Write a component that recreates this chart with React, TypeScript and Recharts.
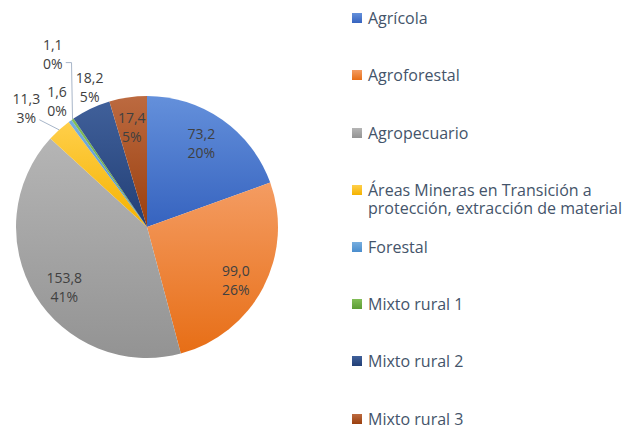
import { PieChart, Pie, Cell, Legend } from 'recharts';

const categories = [
    'Agrícola',
    'Agroforestal',
    'Agropecuario',
    'Áreas Mineras en Transición a protección, extracción de material',
    'Forestal',
    'Mixto rural 1',
    'Mixto rural 2',
    'Mixto rural 3',
];

const values = [73.2, 99.0, 153.8, 11.3, 1.6, 1.1, 18.2, 17.4];

// percentages as printed on the chart
const shares = [20, 26, 41, 3, 0, 0, 5, 5];

const data = categories.map((name, i) => ({ name, value: values[i], share: shares[i] }));

// [light, dark] per slice, vertical gradient
const colors: [string, string][] = [
    ['#6490DB', '#3663BF'],
    ['#F49C62', '#E76E16'],
    ['#B5B5B5', '#939393'],
    ['#FFCF4A', '#F4B200'],
    ['#77AEDF', '#4A8DCD'],
    ['#82BE57', '#5D9D35'],
    ['#40609A', '#223F76'],
    ['#BC6A40', '#9A3F0E'],
];

// label placement: polar radius + pixel nudge, optional leader line
const labelLayout = [
    { r: 98, dx: -2, dy: -4, leader: null },
    { r: 98, dx: 2, dy: 8, leader: null },
    { r: 98, dx: 1, dy: 9, leader: null },
    { r: 150, dx: -20, dy: -8, leader: 'diag' },
    { r: 150, dx: -2, dy: -5, leader: null },
    { r: 150, dx: -9, dy: -50, leader: 'elbow' },
    { r: 150, dx: 7, dy: -4, leader: null },
    { r: 98, dx: -1, dy: -3, leader: null },
];

const RADIAN = Math.PI / 180;
const fmt = (v: number) => v.toFixed(1).replace('.', ',');

const renderLabel = (props: any) => {
    const { cx, cy, midAngle, outerRadius, index, value, payload } = props;
    const lay = labelLayout[index];
    const cos = Math.cos(-midAngle * RADIAN);
    const sin = Math.sin(-midAngle * RADIAN);
    const x = cx + lay.r * cos + lay.dx;
    const y = cy + lay.r * sin + lay.dy;
    const ex = cx + outerRadius * cos;
    const ey = cy + outerRadius * sin;
    let leader = null;
    if (lay.leader === 'diag') {
        leader = <polyline points={`${x + 13},${y + 12} ${ex},${ey}`} fill="none" stroke="#A8B6C9" strokeWidth={1} />;
    } else if (lay.leader === 'elbow') {
        leader = (
            <polyline
                points={`${x + 13},${y + 9} ${ex - 1},${y + 9} ${ex},${ey}`}
                fill="none"
                stroke="#A8B6C9"
                strokeWidth={1}
            />
        );
    }
    const share = payload?.share ?? shares[index];
    return (
        <g>
            {leader}
            <text x={x} y={y - 9.5} textAnchor="middle" dominantBaseline="central" fill="#404040" fontSize={14} fontFamily="'Open Sans', sans-serif">
                {fmt(value)}
            </text>
            <text x={x} y={y + 9.5} textAnchor="middle" dominantBaseline="central" fill="#404040" fontSize={14} fontFamily="'Open Sans', sans-serif">
                {share}%
            </text>
        </g>
    );
};

const renderLegend = () => (
    <div style={{ width: 280, fontFamily: "'Open Sans', sans-serif", fontSize: 16, color: '#44546A', lineHeight: '18px' }}>
        {categories.map((name, i) => (
            <div key={name} style={{ display: 'flex', alignItems: 'flex-start', height: i === 3 ? 56.5 : i === 7 ? 18 : 57.4 }}>
                <span
                    style={{
                        display: 'inline-block',
                        width: 10,
                        height: 10,
                        marginTop: 4,
                        marginRight: 6,
                        flexShrink: 0,
                        background: `linear-gradient(${colors[i][0]}, ${colors[i][1]})`,
                    }}
                />
                <span>{name}</span>
            </div>
        ))}
    </div>
);

export default function App() {
    return (
        <div style={{ position: 'absolute', left: 0, top: 0, width: 632, height: 427, background: '#fff' }}>
            <PieChart width={632} height={427} margin={{ top: 0, right: 0, bottom: 0, left: 0 }}>
                <defs>
                    {colors.map((c, i) => (
                        <linearGradient key={i} id={`slice${i}`} x1="0" y1="0" x2="0" y2="1">
                            <stop offset="0%" stopColor={c[0]} />
                            <stop offset="100%" stopColor={c[1]} />
                        </linearGradient>
                    ))}
                </defs>
                <Pie
                    data={data}
                    dataKey="value"
                    nameKey="name"
                    cx={147}
                    cy={227}
                    outerRadius={131}
                    startAngle={90}
                    endAngle={-270}
                    stroke="none"
                    label={renderLabel}
                    labelLine={false}
                    isAnimationActive={false}
                >
                    {data.map((d, i) => (
                        <Cell key={d.name} fill={`url(#slice${i})`} />
                    ))}
                </Pie>
                <Legend
                    layout="vertical"
                    content={renderLegend}
                    wrapperStyle={{ position: 'absolute', left: 352, top: 9, width: 280 }}
                />
            </PieChart>
        </div>
    );
}
